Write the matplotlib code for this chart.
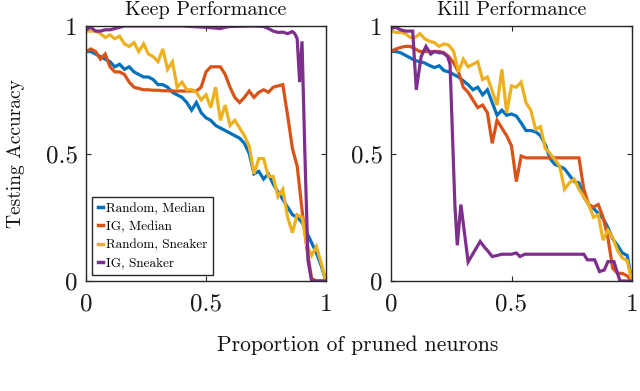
import matplotlib
matplotlib.use("Agg")
import matplotlib.pyplot as plt

plt.rcParams['font.family'] = ['cmr10', 'DejaVu Serif']
plt.rcParams['axes.formatter.use_mathtext'] = True

# ---------------- data ----------------
x_grid = [i / 50 for i in range(51)]  # 0, 0.02, ..., 1.0

# Keep Performance
keep_random_median = [0.90, 0.90, 0.89, 0.88, 0.87, 0.86, 0.84, 0.85, 0.83, 0.84,
                      0.82, 0.81, 0.80, 0.80, 0.79, 0.77, 0.77, 0.76, 0.74, 0.73,
                      0.72, 0.70, 0.67, 0.70, 0.66, 0.64, 0.63, 0.61, 0.60, 0.59,
                      0.58, 0.57, 0.56, 0.54, 0.50, 0.42, 0.43, 0.40, 0.42, 0.38,
                      0.35, 0.32, 0.29, 0.26, 0.25, 0.23, 0.19, 0.15, 0.11, 0.06,
                      0.00]
keep_ig_median = [0.90, 0.91, 0.90, 0.87, 0.89, 0.84, 0.82, 0.82, 0.81, 0.78,
                  0.76, 0.755, 0.75, 0.75, 0.748, 0.748, 0.746, 0.746, 0.745, 0.745,
                  0.745, 0.745, 0.745, 0.745, 0.76, 0.82, 0.84, 0.84, 0.84, 0.81,
                  0.76, 0.72, 0.70, 0.72, 0.745, 0.72, 0.74, 0.75, 0.74, 0.76,
                  0.765, 0.77, 0.65, 0.52, 0.45, 0.28, 0.13, 0.01, 0.00, 0.00,
                  0.00]
keep_random_sneaker = [0.98, 0.98, 0.98, 0.97, 0.955, 0.965, 0.95, 0.96, 0.93, 0.92,
                       0.935, 0.90, 0.93, 0.89, 0.88, 0.86, 0.91, 0.83, 0.86, 0.76,
                       0.78, 0.75, 0.75, 0.74, 0.71, 0.73, 0.68, 0.76, 0.63, 0.69,
                       0.61, 0.63, 0.60, 0.57, 0.53, 0.42, 0.48, 0.48, 0.41, 0.41,
                       0.33, 0.36, 0.25, 0.19, 0.26, 0.25, 0.14, 0.10, 0.135, 0.07,
                       0.00]
keep_ig_sneaker_x = [0, 0.02, 0.04, 0.06, 0.08, 0.10, 0.12, 0.14, 0.16, 0.20,
                     0.30, 0.40, 0.50, 0.56, 0.58, 0.60, 0.70, 0.74, 0.76, 0.78,
                     0.80, 0.82, 0.84, 0.86, 0.87, 0.88, 0.89, 0.90, 0.912, 0.925,
                     0.94, 0.96, 1.0]
keep_ig_sneaker = [0.985, 0.995, 0.98, 0.98, 0.985, 0.985, 0.99, 0.995, 1.0, 1.0,
                   1.0, 1.0, 0.995, 0.99, 0.995, 0.998, 1.0, 0.998, 0.99, 0.98,
                   0.975, 0.976, 0.97, 0.978, 0.97, 0.95, 0.78, 0.94, 0.50, 0.08,
                   0.0, 0.0, 0.0]

# Kill Performance
kill_random_median = [0.90, 0.90, 0.895, 0.885, 0.875, 0.865, 0.86, 0.855, 0.845, 0.837,
                      0.844, 0.825, 0.82, 0.81, 0.80, 0.785, 0.77, 0.75, 0.76, 0.73,
                      0.75, 0.70, 0.65, 0.67, 0.65, 0.655, 0.647, 0.62, 0.59, 0.59,
                      0.585, 0.57, 0.535, 0.48, 0.457, 0.45, 0.44, 0.415, 0.39, 0.385,
                      0.33, 0.30, 0.285, 0.265, 0.245, 0.21, 0.165, 0.14, 0.11, 0.10,
                      0.00]
kill_ig_median = [0.90, 0.91, 0.916, 0.92, 0.92, 0.91, 0.90, 0.90, 0.90, 0.90,
                  0.90, 0.895, 0.88, 0.855, 0.82, 0.76, 0.74, 0.71, 0.68, 0.69,
                  0.66, 0.54, 0.63, 0.60, 0.57, 0.53, 0.39, 0.49, 0.483, 0.483,
                  0.483, 0.483, 0.483, 0.483, 0.483, 0.483, 0.483, 0.483, 0.483, 0.483,
                  0.36, 0.30, 0.29, 0.30, 0.25, 0.17, 0.05, 0.03, 0.03, 0.02,
                  0.00]
kill_random_sneaker = [0.98, 0.975, 0.975, 0.97, 0.955, 0.955, 0.97, 0.95, 0.94, 0.935,
                       0.92, 0.93, 0.925, 0.90, 0.82, 0.87, 0.84, 0.85, 0.86, 0.79,
                       0.80, 0.745, 0.69, 0.83, 0.66, 0.765, 0.76, 0.78, 0.70, 0.67,
                       0.595, 0.605, 0.52, 0.50, 0.476, 0.45, 0.36, 0.385, 0.40, 0.36,
                       0.33, 0.30, 0.25, 0.26, 0.16, 0.20, 0.17, 0.12, 0.09, 0.08,
                       0.00]
kill_ig_sneaker_x = [0, 0.02, 0.04, 0.06, 0.08, 0.09, 0.105, 0.125, 0.145, 0.165,
                     0.18, 0.20, 0.215, 0.235, 0.245, 0.265, 0.275, 0.29, 0.32, 0.345,
                     0.37, 0.39, 0.40, 0.42, 0.44, 0.46, 0.50, 0.52, 0.535, 0.555,
                     0.60, 0.70, 0.80, 0.815, 0.845, 0.865, 0.885, 0.90, 0.925, 0.95,
                     1.0]
kill_ig_sneaker = [0.99, 0.995, 0.985, 0.98, 0.98, 0.98, 0.75, 0.88, 0.92, 0.89,
                   0.90, 0.895, 0.895, 0.88, 0.85, 0.30, 0.14, 0.30, 0.075, 0.115,
                   0.155, 0.13, 0.12, 0.096, 0.10, 0.105, 0.105, 0.11, 0.096, 0.105,
                   0.105, 0.105, 0.105, 0.083, 0.083, 0.037, 0.043, 0.076, 0.076, 0.0,
                   0.0]

labels = ['Random, Median', 'IG, Median', 'Random, Sneaker', 'IG, Sneaker']
colors = ['#0072BD', '#D95319', '#EDB120', '#7E2F8E']
titles = ['Keep Performance', 'Kill Performance']
tick_vals = [0, 0.5, 1]
tick_labels = ['0', '0.5', '1']

# ---------------- figure ----------------
fig = plt.figure(figsize=(6.4, 3.91), dpi=100)
ax1 = fig.add_axes([86 / 640, 110 / 391, 240 / 640, 255 / 391])
ax2 = fig.add_axes([391 / 640, 110 / 391, 241 / 640, 255 / 391])

panels = [
    (ax1, [(x_grid, keep_random_median), (x_grid, keep_ig_median),
           (x_grid, keep_random_sneaker), (keep_ig_sneaker_x, keep_ig_sneaker)]),
    (ax2, [(x_grid, kill_random_median), (x_grid, kill_ig_median),
           (x_grid, kill_random_sneaker), (kill_ig_sneaker_x, kill_ig_sneaker)]),
]

edge = '#262626'
for (ax, series), title in zip(panels, titles):
    for (xs, ys), c, lab in zip(series, colors, labels):
        ax.plot(xs, ys, color=c, lw=2.3, label=lab, solid_joinstyle='miter')
    ax.set_xlim(0, 1)
    ax.set_ylim(0, 1)
    ax.set_xticks(tick_vals)
    ax.set_xticklabels(tick_labels)
    ax.set_yticks(tick_vals)
    ax.set_yticklabels(tick_labels)
    ax.tick_params(direction='in', length=3.5, width=0.8, colors=edge,
                   labelsize=18, top=True, right=True, labelcolor='#1a1a1a')
    ax.tick_params(axis='x', pad=9)
    ax.tick_params(axis='y', pad=6)
    for sp in ax.spines.values():
        sp.set_color(edge)
        sp.set_linewidth(1.0)
    ax.set_title(title, fontsize=14.5, pad=8, color='#111111')

ax1.set_ylabel('Testing Accuracy', fontsize=14, color='#111111')
ax1.yaxis.set_label_coords(-0.255, 0.5)
fig.text(0.559, 0.116, 'Proportion of pruned neurons', fontsize=15.5,
         ha='center', va='center', color='#111111')

leg = ax1.legend(loc='lower left', bbox_to_anchor=(0.025, 0.022), fontsize=9.5,
                 handlelength=0.35, handletextpad=0.25, borderpad=0.45,
                 labelspacing=0.45, fancybox=False, framealpha=1,
                 edgecolor=edge, borderaxespad=0.0)
leg.get_frame().set_linewidth(1.0)
for h in leg.get_lines():
    h.set_linewidth(2.5)

fig.savefig('out.png', dpi=100)
